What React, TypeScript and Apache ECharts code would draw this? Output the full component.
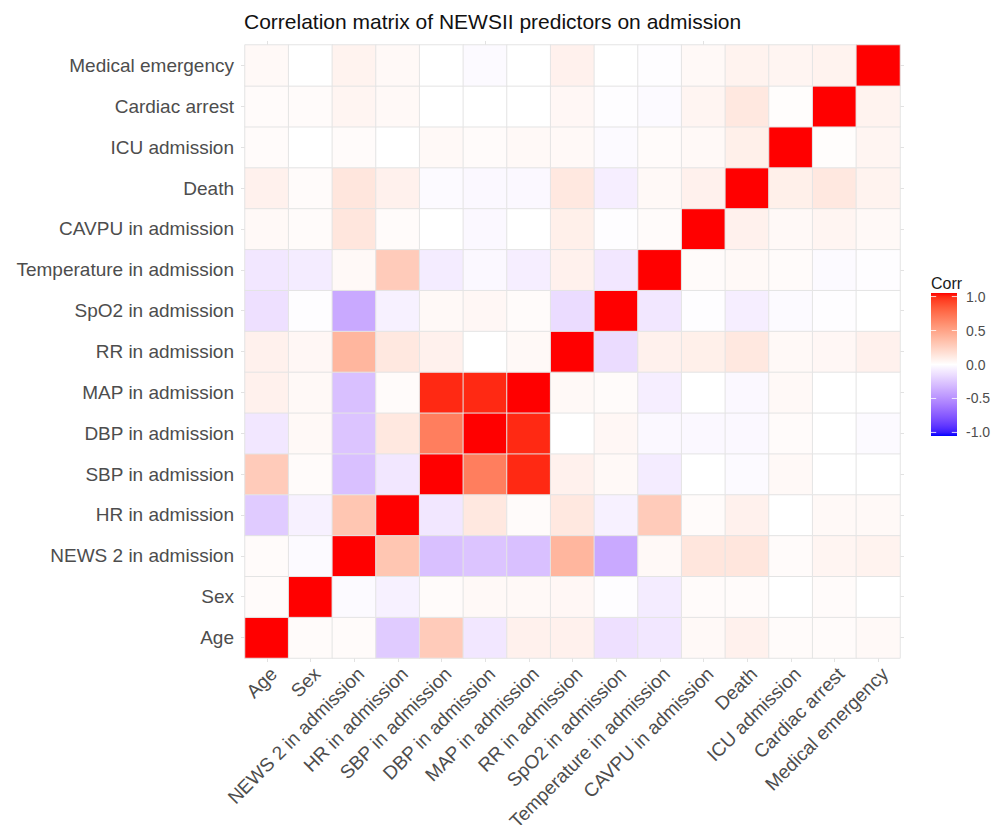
import { useEffect, useRef } from "react";
import * as echarts from "echarts";

// Variable names, bottom-to-top on the y axis and left-to-right on the x axis
const variables = [
  "Age",
  "Sex",
  "NEWS 2 in admission",
  "HR in admission",
  "SBP in admission",
  "DBP in admission",
  "MAP in admission",
  "RR in admission",
  "SpO2 in admission",
  "Temperature in admission",
  "CAVPU in admission",
  "Death",
  "ICU admission",
  "Cardiac arrest",
  "Medical emergency",
];

// Lower triangle of the correlation matrix: each row holds the
// correlations with all earlier variables (diagonal is 1).
const rowSex = [0.02];
const rowNews2 = [0.02, -0.02];
const rowHR = [-0.22, -0.06, 0.3];
const rowSBP = [0.27, 0.02, -0.27, -0.1];
const rowDBP = [-0.1, 0.03, -0.25, 0.12, 0.65];
const rowMAP = [0.07, 0.03, -0.27, 0.02, 0.95, 0.95];
const rowRR = [0.07, 0.04, 0.38, 0.12, 0.07, 0.0, 0.03];
const rowSpO2 = [-0.13, -0.01, -0.37, -0.06, 0.03, 0.04, 0.02, -0.15];
const rowTemp = [-0.1, -0.08, 0.03, 0.27, -0.08, -0.03, -0.07, 0.07, -0.1];
const rowCAVPU = [0.03, 0.02, 0.13, 0.02, 0.0, -0.03, 0.0, 0.08, -0.01, 0.02];
const rowDeath = [0.07, 0.02, 0.13, 0.07, -0.02, -0.03, -0.03, 0.12, -0.07, 0.03, 0.07];
const rowICU = [0.02, 0.0, 0.02, 0.0, 0.03, 0.02, 0.03, 0.03, -0.02, 0.02, 0.03, 0.08];
const rowCardiac = [0.02, 0.02, 0.05, 0.03, 0.0, 0.0, 0.0, 0.04, -0.01, -0.02, 0.05, 0.12, 0.01];
const rowMedical = [0.03, 0.0, 0.06, 0.03, 0.0, -0.02, 0.0, 0.07, 0.0, -0.01, 0.03, 0.06, 0.05, 0.06];

const lowerRows = [
  [],
  rowSex,
  rowNews2,
  rowHR,
  rowSBP,
  rowDBP,
  rowMAP,
  rowRR,
  rowSpO2,
  rowTemp,
  rowCAVPU,
  rowDeath,
  rowICU,
  rowCardiac,
  rowMedical,
];

// Colour bar tick labels
const legendTicks = [1.0, 0.5, 0.0, -0.5, -1.0];

const FONT = "'Liberation Sans', Arial, Helvetica, sans-serif";

// ---- Lab colour interpolation (blue - white - red diverging scale) ----
type RGB = [number, number, number];

function rgbToLab([r, g, b]: RGB): RGB {
  const lin = (c: number) => {
    c /= 255;
    return c <= 0.04045 ? c / 12.92 : Math.pow((c + 0.055) / 1.055, 2.4);
  };
  const R = lin(r), G = lin(g), B = lin(b);
  const X = (0.4124 * R + 0.3576 * G + 0.1805 * B) / 0.95047;
  const Y = 0.2126 * R + 0.7152 * G + 0.0722 * B;
  const Z = (0.0193 * R + 0.1192 * G + 0.9505 * B) / 1.08883;
  const f = (t: number) => (t > 0.008856 ? Math.cbrt(t) : 7.787 * t + 16 / 116);
  return [116 * f(Y) - 16, 500 * (f(X) - f(Y)), 200 * (f(Y) - f(Z))];
}

function labToHex([L, a, b]: RGB): string {
  const fy = (L + 16) / 116;
  const fx = fy + a / 500;
  const fz = fy - b / 200;
  const finv = (t: number) => (t * t * t > 0.008856 ? t * t * t : (t - 16 / 116) / 7.787);
  const X = 0.95047 * finv(fx);
  const Y = finv(fy);
  const Z = 1.08883 * finv(fz);
  const R = 3.2406 * X - 1.5372 * Y - 0.4986 * Z;
  const G = -0.9689 * X + 1.8758 * Y + 0.0415 * Z;
  const B = 0.0557 * X - 0.204 * Y + 1.057 * Z;
  const gam = (c: number) => {
    c = Math.min(1, Math.max(0, c));
    const v = c <= 0.0031308 ? 12.92 * c : 1.055 * Math.pow(c, 1 / 2.4) - 0.055;
    return Math.round(v * 255).toString(16).padStart(2, "0");
  };
  return "#" + gam(R) + gam(G) + gam(B);
}

const LAB_WHITE = rgbToLab([255, 255, 255]);
const LAB_RED = rgbToLab([255, 0, 0]);
const LAB_BLUE = rgbToLab([0, 0, 255]);

function colorAt(v: number): string {
  const t = Math.min(1, Math.abs(v));
  const end = v >= 0 ? LAB_RED : LAB_BLUE;
  return labToHex([
    LAB_WHITE[0] + (end[0] - LAB_WHITE[0]) * t,
    LAB_WHITE[1] + (end[1] - LAB_WHITE[1]) * t,
    LAB_WHITE[2] + (end[2] - LAB_WHITE[2]) * t,
  ]);
}

export default function App() {
  const ref = useRef<HTMLDivElement>(null);

  useEffect(() => {
    if (!ref.current) return;
    const chart = echarts.init(ref.current, undefined, { renderer: "svg" });

    const n = variables.length;
    const corr = (i: number, j: number) => {
      if (i === j) return 1;
      return i > j ? lowerRows[i][j] : lowerRows[j][i];
    };
    const data: [number, number, number][] = [];
    for (let y = 0; y < n; y++) {
      for (let x = 0; x < n; x++) {
        data.push([x, y, corr(x, y)]);
      }
    }

    // Colour stops from -1 to 1
    const steps = 40;
    const stops: string[] = [];
    for (let k = 0; k <= steps; k++) stops.push(colorAt(-1 + (2 * k) / steps));

    // Colour bar geometry
    const barLeft = 931;
    const barW = 26;
    const barTop = 293;
    const barH = 143;
    const inset = barH / 40;
    const tickY = (v: number) => barTop + inset + ((1 - v) / 2) * (barH - 2 * inset);

    const gradientStops = [];
    for (let k = 0; k <= steps; k++) {
      const v = 1 - (2 * k) / steps;
      gradientStops.push({ offset: k / steps, color: colorAt(v) });
    }

    const legendGraphics: any[] = [
      {
        type: "text",
        left: barLeft,
        top: 275,
        style: { text: "Corr", fontSize: 16, fill: "#1a1a1a", fontFamily: FONT },
      },
      {
        type: "rect",
        shape: { x: barLeft, y: barTop, width: barW, height: barH },
        style: {
          fill: new echarts.graphic.LinearGradient(0, 0, 0, 1, gradientStops),
        },
      },
    ];
    legendTicks.forEach((v) => {
      const y = tickY(v);
      legendGraphics.push(
        {
          type: "line",
          shape: { x1: barLeft, y1: y, x2: barLeft + barW / 5, y2: y },
          style: { stroke: "rgba(255,255,255,0.8)", lineWidth: 1 },
        },
        {
          type: "line",
          shape: { x1: barLeft + barW - barW / 5, y1: y, x2: barLeft + barW, y2: y },
          style: { stroke: "rgba(255,255,255,0.8)", lineWidth: 1 },
        },
        {
          type: "text",
          x: 966,
          y: y,
          style: {
            text: v.toFixed(1),
            fontSize: 14,
            fill: "#4d4d4d",
            fontFamily: FONT,
            verticalAlign: "middle",
            align: "left",
          },
        }
      );
    });

    const tickStyle = { show: true, alignWithLabel: true, length: 4, lineStyle: { color: "#e2e2e2" } };

    chart.setOption({
      animation: false,
      backgroundColor: "#ffffff",
      title: {
        text: "Correlation matrix of NEWSII predictors on admission",
        left: 239,
        top: 6,
        textStyle: { fontSize: 21, fontWeight: "normal", color: "#111111", fontFamily: FONT },
      },
      grid: {
        left: 245,
        right: 93,
        top: 45,
        bottom: 167,
        containLabel: false,
        outerBoundsMode: "none",
      },
      xAxis: [
        {
          type: "category",
          data: variables,
          position: "bottom",
          axisLine: { show: false },
          axisTick: tickStyle,
          splitLine: { show: false },
          axisLabel: {
            rotate: 45,
            interval: 0,
            fontSize: 19,
            color: "#4d4d4d",
            fontFamily: FONT,
            margin: 6,
            align: "right",
            verticalAlign: "top",
          },
        },
        {
          type: "category",
          data: variables,
          position: "top",
          axisLine: { show: false },
          axisTick: tickStyle,
          axisLabel: { show: false },
        },
      ],
      yAxis: [
        {
          type: "category",
          data: variables,
          position: "left",
          axisLine: { show: false },
          axisTick: tickStyle,
          splitLine: { show: false },
          axisLabel: {
            interval: 0,
            fontSize: 19,
            color: "#4d4d4d",
            fontFamily: FONT,
            margin: 11,
          },
        },
        {
          type: "category",
          data: variables,
          position: "right",
          axisLine: { show: false },
          axisTick: tickStyle,
          axisLabel: { show: false },
        },
      ],
      visualMap: {
        type: "continuous",
        show: false,
        min: -1,
        max: 1,
        dimension: 2,
        inRange: { color: stops },
      },
      series: [
        {
          type: "heatmap",
          data,
          itemStyle: { borderColor: "#e4e4e4", borderWidth: 1 },
          emphasis: { disabled: true },
        },
      ],
      graphic: legendGraphics,
    });

    return () => chart.dispose();
  }, []);

  return (
    <div
      ref={ref}
      style={{ position: "fixed", left: 0, top: 0, width: 993, height: 825, background: "#fff" }}
    />
  );
}
